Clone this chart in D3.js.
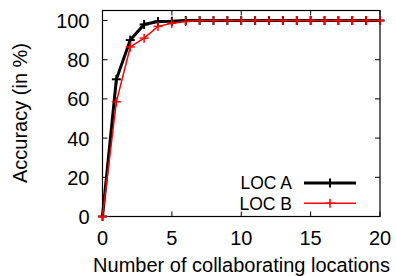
<!DOCTYPE html>
<html><head><meta charset="utf-8">
<script src="https://cdn.jsdelivr.net/npm/d3@7"></script>
<style>body{margin:0;background:#fff}text{font-family:"Liberation Sans",Arial,sans-serif}</style>
</head><body>
<script>
const xs = [0,1,2,3,4,5,6,7,8,9,10,11,12,13,14,15,16,17,18,19,20];
const locA = [0,70,90,98,99.5,99.6,100,100,100,100,100,100,100,100,100,100,100,100,100,100,100];
const locB = [0,58.5,86.5,91,97,98.6,99.5,100,100,100,100,100,100,100,100,100,100,100,100,100,100];
const xTicks = [0,5,10,15,20];
const yTicks = [0,20,40,60,80,100];
const seriesNames = ["LOC A","LOC B"];

const W=396,H=276;
const L=102.5,R=380,T=10.5,B=216.5;
const svg=d3.select("body").append("svg").attr("width",W).attr("height",H);
const x=d3.scaleLinear().domain([0,20]).range([L,R]);
const y=d3.scaleLinear().domain([0,100]).range([B,20.5]);
const fs=20;

// ticks inside
const g=svg.append("g").attr("stroke","#000").attr("stroke-width",1);
xTicks.forEach(v=>{
  g.append("line").attr("x1",x(v)).attr("x2",x(v)).attr("y1",B).attr("y2",B-5);
  g.append("line").attr("x1",x(v)).attr("x2",x(v)).attr("y1",T).attr("y2",T+5);
});
yTicks.forEach(v=>{
  g.append("line").attr("x1",L).attr("x2",L+5).attr("y1",y(v)).attr("y2",y(v));
  g.append("line").attr("x1",R).attr("x2",R-5).attr("y1",y(v)).attr("y2",y(v));
});
svg.append("rect").attr("x",L).attr("y",T).attr("width",R-L).attr("height",B-T)
  .attr("fill","none").attr("stroke","#000").attr("stroke-width",1.2);

// tick labels
svg.selectAll(".xt").data(xTicks).enter().append("text")
  .attr("x",d=>x(d)).attr("y",244.5).attr("text-anchor","middle").attr("font-size",fs).text(d=>d);
svg.selectAll(".yt").data(yTicks).enter().append("text")
  .attr("x",89.5).attr("y",d=>y(d)+7.5).attr("text-anchor","end").attr("font-size",fs).text(d=>d);

// axis titles
svg.append("text").attr("x",241.5).attr("y",272).attr("text-anchor","middle").attr("font-size",fs)
  .text("Number of collaborating locations");
svg.append("text").attr("transform","translate(26.5,113) rotate(-90)").attr("text-anchor","middle")
  .attr("font-size",fs).text("Accuracy (in %)");

const line=d3.line().x((d,i)=>x(xs[i])).y(d=>y(d));
const plus=(sel,cx,cy,s,col,w)=>{
  sel.append("line").attr("x1",cx-s).attr("x2",cx+s).attr("y1",cy).attr("y2",cy).attr("stroke",col).attr("stroke-width",w);
  sel.append("line").attr("x1",cx).attr("x2",cx).attr("y1",cy-s).attr("y2",cy+s).attr("stroke",col).attr("stroke-width",w);
};
const series=[{name:seriesNames[0],vals:locA,col:"#000",w:3,mw:2},{name:seriesNames[1],vals:locB,col:"#ff0000",w:1.5,mw:1.5}];
series.forEach(s=>{
  const gg=svg.append("g");
  gg.append("path").attr("d",line(s.vals)).attr("fill","none").attr("stroke",s.col).attr("stroke-width",s.w);
  s.vals.forEach((v,i)=>plus(gg,x(xs[i]),y(v),4.5,s.col,s.mw));
});

// legend
const lfs=17.5;
series.forEach((s,i)=>{
  const cy=183+i*20.2;
  svg.append("text").attr("x",292).attr("y",cy+6.3).attr("text-anchor","end").attr("font-size",lfs).text(s.name);
  svg.append("line").attr("x1",304).attr("x2",356).attr("y1",cy).attr("y2",cy).attr("stroke",s.col).attr("stroke-width",s.w);
  plus(svg,330,cy,4.5,s.col,s.mw);
});
</script>
</body></html>
